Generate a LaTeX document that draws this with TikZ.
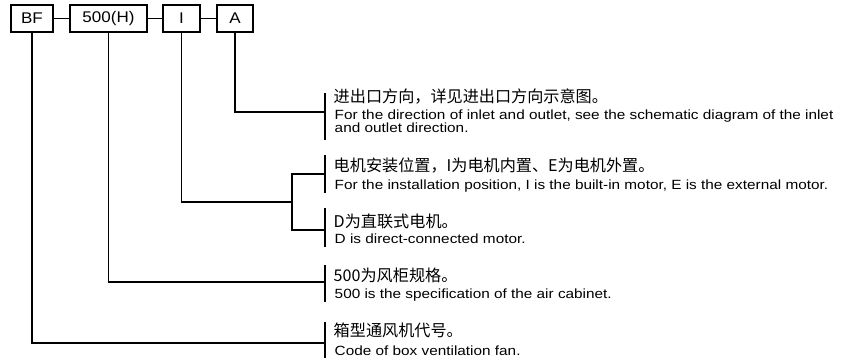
\documentclass[tikz,border=0pt]{standalone}
\usepackage{fontspec}
\setmainfont{Liberation Sans}
\newfontfamily\cjk{Noto Sans CJK SC}
\newfontfamily\enwide[FakeStretch=1.15]{Liberation Sans}
\newfontfamily\boxwide[FakeStretch=1.1]{Liberation Sans}
\begin{document}
\begin{tikzpicture}[x=0.75pt,y=-0.75pt,line width=1.1pt,
  codebox/.style={draw,line width=1.1pt,minimum height=20.25pt,inner sep=0pt,font=\boxwide\fontsize{11.6}{13}\selectfont},
  cn/.style={anchor=base west,inner sep=0pt,font=\cjk\fontsize{12.1}{14}\selectfont},
  en/.style={anchor=base west,inner sep=0pt,font=\enwide\fontsize{10}{12}\selectfont}]
\useasboundingbox (0,0) rectangle (841,362);
% code boxes
\node[codebox,minimum width=31.5pt] (bf) at (32,18.5) {BF};
\node[codebox,minimum width=57.75pt] (p500) at (108.5,18.5) {500(H)};
\node[codebox,minimum width=27.75pt] (pI) at (181.5,18.5) {I};
\node[codebox,minimum width=27pt] (pA) at (235,18.5) {A};
\draw (bf) -- (p500);
\draw (p500) -- (pI);
\draw (pI) -- (pA);
% group A
\coordinate (a1) at (325,93); \coordinate (a2) at (325,140); \coordinate (ja) at (325,112);
\draw (a1) -- (a2);
\draw (pA.south) |- (ja);
\node[cn] (ta1) at (333,102) {进出口方向，详见进出口方向示意图。};
\node[en] (ta2) at (334,119) {For the direction of inlet and outlet, see the schematic diagram of the inlet};
\node[en] (ta3) at (334,132.5) {and outlet direction.};
% group I
\coordinate (b1) at (325,155); \coordinate (b2) at (325,193); \coordinate (jb) at (325,174);
\coordinate (c1) at (325,208); \coordinate (c2) at (325,247); \coordinate (jc) at (325,230);
\coordinate (ib) at (292,202);
\draw (b1) -- (b2);
\draw (c1) -- (c2);
\draw (pI.south) |- (ib);
\draw (jb) -| (ib) |- (jc);
\node[cn] (tb1) at (333,171) {电机安装位置，I为电机内置、E为电机外置。};
\node[en] (tb2) at (334,189) {For the installation position, I is the built-in motor, E is the external motor.};
\node[cn] (tc1) at (333,227) {D为直联式电机。};
\node[en] (tc2) at (334,243) {D is direct-connected motor.};
% group 500
\coordinate (d1) at (325,265); \coordinate (d2) at (325,302); \coordinate (jd) at (325,282);
\draw (d1) -- (d2);
\draw (p500.south) |- (jd);
\node[cn] (td1) at (333,281) {500为风柜规格。};
\node[en] (td2) at (334,298) {500 is the specification of the air cabinet.};
% group BF
\coordinate (e1) at (325,322); \coordinate (e2) at (325,358); \coordinate (je) at (325,343);
\draw (e1) -- (e2);
\draw (bf.south) |- (je);
\node[cn] (te1) at (333,336) {箱型通风机代号。};
\node[en] (te2) at (334,355) {Code of box ventilation fan.};
\end{tikzpicture}
\end{document}
